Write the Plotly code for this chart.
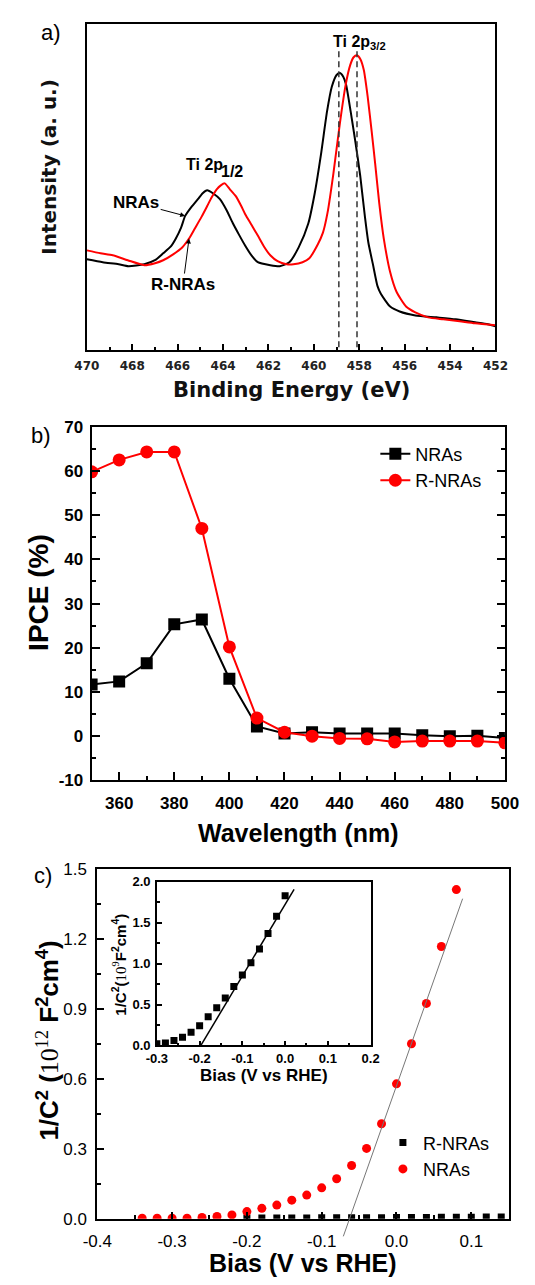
import plotly.graph_objects as go

W, H = 535, 1285
def fx(p): return p / W
def fy(p): return 1 - p / H

# ---------------- Panel a: XPS Ti 2p ----------------
xps_E_nras = [470.0, 469.3, 468.6, 468.17, 467.47, 467.0, 466.64, 466.3, 466.08, 465.85,
              465.67, 465.4, 465.11, 464.9, 464.7, 464.45, 464.14, 463.85, 463.58, 463.3,
              463.03, 462.75, 462.47, 461.92, 461.5, 461.08, 460.67, 460.25, 459.97, 459.69,
              459.42, 459.21, 459.0, 458.85, 458.7, 458.58, 458.38, 458.17, 457.96, 457.75,
              457.6, 457.4, 457.2, 457.05, 456.64, 456.22, 455.53, 454.6, 453.75, 452.9,
              452.33, 452.0]
xps_I_nras = [93, 90, 88, 86, 88, 92, 99, 106, 114, 125,
              137, 146, 154, 160, 163, 160, 154, 143, 130, 118,
              107, 97, 90, 87, 86, 90, 105, 129, 159, 199,
              243, 268, 280, 282, 278, 270, 243, 212, 178, 136,
              110, 88, 66, 58, 45, 40, 36, 34, 32, 29,
              27, 25]
xps_E_rnras = [470.0, 469.4, 468.86, 468.2, 467.47, 467.0, 466.64, 466.2, 465.8, 465.5,
               465.25, 464.95, 464.7, 464.5, 464.28, 464.1, 463.93, 463.7, 463.44, 463.2,
               463.03, 462.75, 462.47, 462.2, 461.92, 461.6, 461.2, 460.9, 460.5, 460.2,
               459.83, 459.6, 459.4, 459.14, 458.86, 458.6, 458.4, 458.25, 458.1, 457.95,
               457.8, 457.63, 457.45, 457.3, 457.12, 456.92, 456.64, 456.36, 455.94, 455.53,
               454.97, 454.3, 453.58, 452.9, 452.0]
xps_I_rnras = [102, 99, 97, 92, 87, 89, 92, 98, 105, 114,
               124, 136, 147, 156, 164, 168, 170, 164, 157, 147,
               139, 128, 117, 106, 97, 91, 88, 88, 90, 94,
               108, 120, 140, 180, 230, 270, 290, 298, 300, 296,
               285, 258, 222, 190, 150, 114, 80, 60, 45, 39,
               34, 32, 30, 28, 26]
peak_E = [458.9, 458.1]
peak_top = 304

# ---------------- Panel b: IPCE ----------------
wavelength = [350, 360, 370, 380, 390, 400, 410, 420, 430, 440, 450, 460, 470, 480, 490, 500]
ipce_nras = [11.7, 12.4, 16.5, 25.3, 26.4, 13.0, 2.2, 0.6, 0.9, 0.6, 0.6, 0.6, 0.2, 0.0, 0.1, -0.4]
ipce_rnras = [59.8, 62.5, 64.3, 64.3, 47.0, 20.2, 4.1, 0.9, 0.0, -0.5, -0.6, -1.3, -1.1, -1.1, -1.1, -1.5]
b_yticks = [-10, 0, 10, 20, 30, 40, 50, 60, 70]
b_yticktext = ["-10", "0", "10", "20", "30", "40", "50", "60", "70"]

# ---------------- Panel c: Mott-Schottky ----------------
bias_nras = [-0.34, -0.32, -0.30, -0.28, -0.26, -0.24, -0.22, -0.20, -0.18, -0.16, -0.14,
             -0.12, -0.10, -0.08, -0.06, -0.04, -0.02, 0.00, 0.02, 0.04, 0.06, 0.08]
ms_nras = [0.003, 0.003, 0.003, 0.003, 0.006, 0.010, 0.017, 0.031, 0.045, 0.059, 0.080,
           0.102, 0.133, 0.172, 0.229, 0.302, 0.408, 0.579, 0.751, 0.924, 1.168, 1.412]
bias_rnras = [-0.20, -0.18, -0.16, -0.14, -0.12, -0.10, -0.08, -0.06, -0.04, -0.02,
              0.00, 0.02, 0.04, 0.06, 0.08, 0.10, 0.12, 0.14]
ms_rnras = [0.004, 0.004, 0.004, 0.004, 0.004, 0.005, 0.005, 0.005, 0.005, 0.005,
            0.006, 0.006, 0.006, 0.007, 0.007, 0.007, 0.008, 0.008]
fit_c_x = [-0.0711, 0.0884]
fit_c_y = [-0.075, 1.373]
c_xticks = [-0.4, -0.3, -0.2, -0.1, 0.0, 0.1]
c_xticktext = ["-0.4", "-0.3", "-0.2", "-0.1", "0.0", "0.1"]

# inset (10^9 scale)
bias_in = [-0.30, -0.28, -0.26, -0.24, -0.22, -0.20, -0.18, -0.16, -0.14, -0.12, -0.10,
           -0.08, -0.06, -0.04, -0.02, 0.00]
ms_in = [0.02, 0.03, 0.06, 0.10, 0.16, 0.24, 0.35, 0.46, 0.58, 0.72, 0.86,
         1.01, 1.18, 1.37, 1.58, 1.83]
fit_in_x = [-0.197, 0.021]
fit_in_y = [0.0, 1.91]
in_xticks = [-0.3, -0.2, -0.1, 0.0, 0.1, 0.2]
in_xticktext = ["-0.3", "-0.2", "-0.1", "0.0", "0.1", "0.2"]

SANS = "Liberation Sans"
DJ = "DejaVu Sans"
RED = "#ff0000"

fig = go.Figure()

# panel a traces
fig.add_trace(go.Scatter(x=xps_E_nras, y=xps_I_nras, mode="lines", line=dict(color="black", width=2, shape="spline", smoothing=0.6),
                         xaxis="x", yaxis="y", showlegend=False))
fig.add_trace(go.Scatter(x=xps_E_rnras, y=xps_I_rnras, mode="lines", line=dict(color=RED, width=2, shape="spline", smoothing=0.6),
                         xaxis="x", yaxis="y", showlegend=False))
for e in peak_E:
    fig.add_trace(go.Scatter(x=[e, e], y=[peak_top, 0], mode="lines",
                             line=dict(color="#333333", width=1.5, dash="6px,4px"),
                             xaxis="x", yaxis="y", showlegend=False))

# panel b traces
fig.add_trace(go.Scatter(x=wavelength, y=ipce_nras, mode="lines+markers", name="NRAs",
                         line=dict(color="black", width=2), marker=dict(symbol="square", size=12, color="black"),
                         xaxis="x2", yaxis="y2", legend="legend"))
fig.add_trace(go.Scatter(x=wavelength, y=ipce_rnras, mode="lines+markers", name="R-NRAs",
                         line=dict(color=RED, width=2), marker=dict(symbol="circle", size=13, color=RED),
                         xaxis="x2", yaxis="y2", legend="legend"))

# panel c traces
fig.add_trace(go.Scatter(x=bias_rnras, y=ms_rnras, mode="markers", name="R-NRAs",
                         marker=dict(symbol="square", size=7, color="black"),
                         xaxis="x3", yaxis="y3", legend="legend2"))
fig.add_trace(go.Scatter(x=bias_nras, y=ms_nras, mode="markers", name="NRAs",
                         marker=dict(symbol="circle", size=9, color=RED),
                         xaxis="x3", yaxis="y3", legend="legend2"))
fig.add_trace(go.Scatter(x=fit_c_x, y=fit_c_y, mode="lines", line=dict(color="#777777", width=1),
                         xaxis="x5", yaxis="y5", showlegend=False))

# inset traces
fig.add_trace(go.Scatter(x=bias_in, y=ms_in, mode="markers",
                         marker=dict(symbol="square", size=7, color="black"),
                         xaxis="x4", yaxis="y4", showlegend=False))
fig.add_trace(go.Scatter(x=fit_in_x, y=fit_in_y, mode="lines", line=dict(color="black", width=1.5),
                         xaxis="x4", yaxis="y4", showlegend=False))

def ax_common(**kw):
    d = dict(showgrid=False, zeroline=False, showline=True, linecolor="black", linewidth=2,
             ticks="inside", tickcolor="black", tickwidth=1.5)
    d.update(kw)
    return d

c_range_y = [0, 1.5]
ext_px = 22
c_ext = [-(ext_px) * (c_range_y[1] - c_range_y[0]) / (1228 - 873), c_range_y[1]]

fig.update_layout(
    width=W, height=H, margin=dict(l=0, r=0, t=0, b=0),
    paper_bgcolor="white", plot_bgcolor="rgba(0,0,0,0)",
    xaxis=ax_common(domain=[fx(76), fx(508)], range=[470, 452], anchor="y", dtick=2, ticklen=6, mirror=True,
                    minor=dict(dtick=1, ticklen=3, ticks="inside", tickcolor="black"),
                    tickfont=dict(family=DJ, size=12, color="#222", weight="bold"), ticklabelstandoff=4),
    yaxis=ax_common(domain=[fy(346), fy(15)], range=[1, 332], anchor="x", ticks="", showticklabels=False, mirror=True),
    xaxis2=ax_common(domain=[fx(81), fx(518)], range=[350, 500], anchor="y2", dtick=20, ticklen=8, mirror=True,
                     minor=dict(dtick=10, ticklen=4, ticks="inside", tickcolor="black"),
                     tickfont=dict(family=SANS, size=17, color="black", weight="bold"), ticklabelstandoff=6),
    yaxis2=ax_common(domain=[fy(783), fy(424)], range=[-10, 70], anchor="x2", tickmode="array",
                     tickvals=b_yticks, ticktext=b_yticktext, ticklen=8, mirror="ticks",
                     minor=dict(dtick=5, ticklen=4, ticks="inside", tickcolor="black"),
                     tickfont=dict(family=SANS, size=17, color="black", weight="bold"), ticklabelstandoff=3),
    xaxis3=ax_common(domain=[fx(87), fx(522)], range=[-0.4, 0.15], anchor="y3", tickmode="array",
                     tickvals=c_xticks, ticktext=c_xticktext, ticklen=7, mirror=True,
                     minor=dict(dtick=0.05, ticklen=4, ticks="inside", tickcolor="black"),
                     tickfont=dict(family=SANS, size=17, color="black"), ticklabelstandoff=6),
    yaxis3=ax_common(domain=[fy(1228), fy(873)], range=c_range_y, anchor="x3", dtick=0.3, tickformat=".1f", ticklen=7, mirror=True,
                     minor=dict(dtick=0.15, ticklen=4, ticks="inside", tickcolor="black"),
                     tickfont=dict(family=SANS, size=17, color="black"), ticklabelstandoff=5),
    xaxis4=ax_common(domain=[fx(150), fx(376)], range=[-0.3, 0.2], anchor="y4", tickmode="array",
                     tickvals=in_xticks, ticktext=in_xticktext, ticklen=5, mirror=True,
                     linewidth=1.5, minor=dict(dtick=0.05, ticklen=3, ticks="inside", tickcolor="black"),
                     tickfont=dict(family=SANS, size=13, color="black", weight="bold"), ticklabelstandoff=0),
    yaxis4=ax_common(domain=[fy(1052), fy(886)], range=[0, 2.0], anchor="x4", dtick=0.5, tickformat=".1f", ticklen=5, mirror=True,
                     linewidth=1.5, minor=dict(dtick=0.25, ticklen=3, ticks="inside", tickcolor="black"),
                     tickfont=dict(family=SANS, size=13, color="black", weight="bold"), ticklabelstandoff=2),
    xaxis5=dict(domain=[fx(87), fx(522)], range=[-0.4, 0.15], anchor="y5", visible=False, showgrid=False, zeroline=False),
    yaxis5=dict(domain=[fy(1228 + ext_px), fy(873)], range=c_ext, anchor="x5", visible=False, showgrid=False, zeroline=False),
    legend=dict(x=fx(381), y=fy(465), xanchor="left", yanchor="middle", bgcolor="rgba(0,0,0,0)",
                font=dict(family=SANS, size=18, color="black"), itemwidth=30, tracegroupgap=0),
    legend2=dict(x=fx(389), y=fy(1164), xanchor="left", yanchor="middle", bgcolor="rgba(0,0,0,0)",
                 font=dict(family=SANS, size=18, color="black"), itemwidth=30, tracegroupgap=0),
)

ann = []
def text(t, x, y, size, family=SANS, angle=0, xanchor="center", yanchor="middle", color="black"):
    ann.append(dict(text=t, x=fx(x), y=fy(y), xref="paper", yref="paper", showarrow=False,
                    font=dict(family=family, size=size, color=color), textangle=angle,
                    xanchor=xanchor, yanchor=yanchor))

# panel labels
text("a)", 38, 24, 22)
text("b)", 28, 433, 22)
text("c)", 30, 880, 22)

# axis titles
text("<b>Binding Energy (eV)</b>", 292, 387, 21, family=DJ, color="#111")
text("<b>Intensity (a. u.)</b>", 36, 160, 20, family=DJ, angle=-90, color="#111")
text("<b>Wavelength (nm)</b>", 299, 836, 25)
text("<b>IPCE (%)</b>", 25, 592, 28, angle=-90)
text("<b>Bias (V vs RHE)</b>", 304, 1273, 25)
text("<b>1/C<sup>2</sup> (<span style='font-family:Liberation Serif;font-weight:normal'>10<sup>12</sup></span> F<sup>2</sup>cm<sup>4</sup>)</b>",
     35, 1047, 26, angle=-90)
text("<b>Bias (V vs RHE)</b>", 263, 1083, 17)
text("<b>1/C<sup>2</sup>(<span style='font-family:Liberation Serif;font-weight:normal'>10<sup>9</sup></span>F<sup>2</sup>cm<sup>4</sup>)</b>",
     110, 970, 15, angle=-90)

# panel a peak labels
text("<b>Ti 2p<sub>3/2</sub></b>", 334, 34, 16, xanchor="left")
text("<b>Ti 2p</b>", 179, 158, 16, xanchor="left")
text("<b>1/2</b>", 216, 165, 16, xanchor="left")

# arrowed labels (heads on curves, data coords)
ann.append(dict(text="<b>NRAs</b>", x=465.67, y=137, xref="x", yref="y", ax=-49, ay=-13,
                showarrow=True, arrowhead=2, arrowsize=1, arrowwidth=1, arrowcolor="black", standoff=0,
                font=dict(family=SANS, size=17, color="black")))
ann.append(dict(text="<b>R-NRAs</b>", x=465.5, y=114, xref="x", yref="y", ax=-6, ay=46,
                showarrow=True, arrowhead=2, arrowsize=1, arrowwidth=1, arrowcolor="black", standoff=0,
                font=dict(family=SANS, size=17, color="black")))

fig.update_layout(annotations=ann)
fig.write_html("out.html", config={"displayModeBar": False},
               post_script="document.body.style.margin='0';")
